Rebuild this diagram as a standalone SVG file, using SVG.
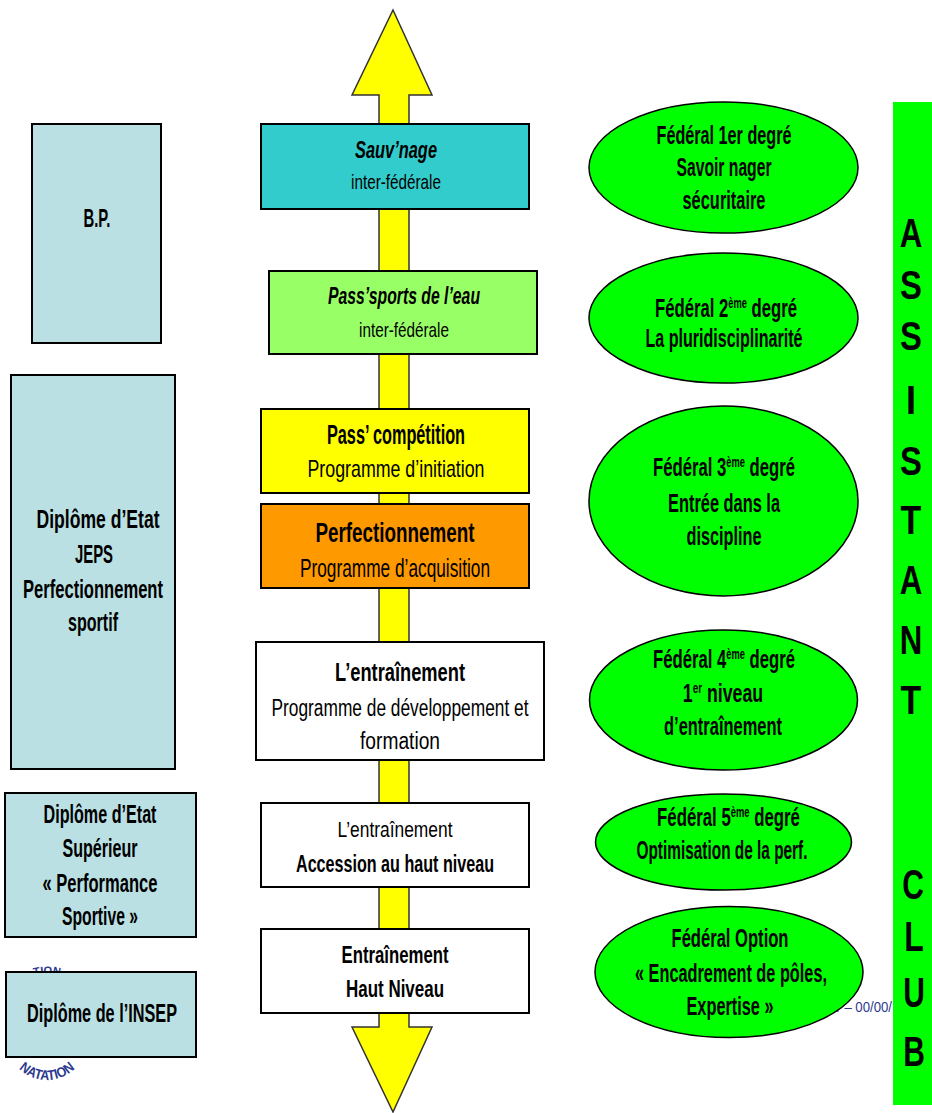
<svg xmlns="http://www.w3.org/2000/svg" width="932" height="1113" viewBox="0 0 932 1113">
<style>
.t{font-family:"Liberation Sans Narrow","Liberation Sans",Arial,sans-serif;text-anchor:middle;fill:#000}
.w{font-family:"Liberation Sans",Arial,sans-serif;font-weight:bold;text-anchor:middle;fill:#000;font-size:25px}
.b{font-weight:bold}
.i{font-style:italic}
.sup{font-size:14px}
.box{stroke:#000;stroke-width:2}
.lb{fill:#BBE0E3}
.ell{fill:#00FF00;stroke:#000;stroke-width:1.5}
.let{font-family:"Liberation Sans",Arial,sans-serif;font-weight:bold;font-size:40px;text-anchor:middle;fill:#000}
.blue{fill:#2B3990;font-family:"Liberation Sans Narrow","Liberation Sans",Arial,sans-serif}
</style>
<defs>
<path id="arcBottom" d="M 7 1040 A 40 40 0 0 0 87 1040"/>
<path id="arcTop" d="M -1 1022 A 48 48 0 0 1 95 1022"/>
</defs>

<g id="connectors">
<polygon points="393,10 432,95 409,95 409,1027 432,1027 393,1112 352,1027 379,1027 379,95 352,95" fill="#FFFF00" stroke="#333" stroke-width="1.5" stroke-linejoin="miter"/>
</g>

<g id="logo">
<text class="blue b" font-size="11"><textPath href="#arcTop" startOffset="50%" text-anchor="middle">TION</textPath></text>
<text class="blue b" font-size="14"><textPath href="#arcBottom" startOffset="50%" text-anchor="middle" textLength="62" lengthAdjust="spacingAndGlyphs">NATATION</textPath></text>
</g>

<g id="footer-date">
<text class="blue" x="829" y="1012" font-size="15" textLength="63" lengthAdjust="spacingAndGlyphs">ar – 00/00/</text>
</g>

<!-- central boxes -->
<g id="sauvnage">
<rect class="box" x="261" y="124" width="268" height="85" fill="#33CCCC"/>
<text class="t b i" x="396" y="158" font-size="24" textLength="82" lengthAdjust="spacingAndGlyphs">Sauv’nage</text>
<text class="t" x="396" y="189" font-size="21" textLength="90" lengthAdjust="spacingAndGlyphs">inter-fédérale</text>
</g>
<g id="passsports">
<rect class="box" x="269" y="271" width="268" height="83" fill="#99FF66"/>
<text class="t b i" x="404" y="304" font-size="24" textLength="152" lengthAdjust="spacingAndGlyphs">Pass’sports de l’eau</text>
<text class="t" x="404" y="337" font-size="21" textLength="90" lengthAdjust="spacingAndGlyphs">inter-fédérale</text>
</g>
<g id="passcompetition">
<rect class="box" x="261" y="409" width="268" height="84" fill="#FFFF00"/>
<text class="t b" x="396" y="444" font-size="27" textLength="138" lengthAdjust="spacingAndGlyphs">Pass’ compétition</text>
<text class="t" x="396" y="477" font-size="24" textLength="177" lengthAdjust="spacingAndGlyphs">Programme d’initiation</text>
</g>
<g id="perfectionnement">
<rect class="box" x="261" y="504" width="268" height="84" fill="#FF9900"/>
<text class="t b" x="395" y="542" font-size="27" textLength="159" lengthAdjust="spacingAndGlyphs">Perfectionnement</text>
<text class="t" x="395" y="577" font-size="25" textLength="190" lengthAdjust="spacingAndGlyphs">Programme d’acquisition</text>
</g>
<g id="entrainement1">
<rect class="box" x="256" y="642" width="288" height="118" fill="#FFFFFF"/>
<text class="t b" x="400" y="681" font-size="26" textLength="130" lengthAdjust="spacingAndGlyphs">L’entraînement</text>
<text class="t" x="400" y="716" font-size="23" textLength="257" lengthAdjust="spacingAndGlyphs">Programme de développement et</text>
<text class="t" x="400" y="749" font-size="23" textLength="80" lengthAdjust="spacingAndGlyphs">formation</text>
</g>
<g id="entrainement2">
<rect class="box" x="261" y="803" width="268" height="84" fill="#FFFFFF"/>
<text class="t" x="395" y="837" font-size="22" textLength="115" lengthAdjust="spacingAndGlyphs">L’entraînement</text>
<text class="t b" x="395" y="872" font-size="23" textLength="198" lengthAdjust="spacingAndGlyphs">Accession au haut niveau</text>
</g>
<g id="hautniveau">
<rect class="box" x="261" y="929" width="268" height="84" fill="#FFFFFF"/>
<text class="t b" x="395" y="963" font-size="23" textLength="107" lengthAdjust="spacingAndGlyphs">Entraînement</text>
<text class="t b" x="395" y="997" font-size="24" textLength="98" lengthAdjust="spacingAndGlyphs">Haut Niveau</text>
</g>

<!-- left boxes -->
<g id="bp">
<rect class="box lb" x="32" y="124" width="129" height="219"/>
<text class="t b" x="97" y="227" font-size="25" textLength="27" lengthAdjust="spacingAndGlyphs">B.P.</text>
</g>
<g id="jeps">
<rect class="box lb" x="11" y="375" width="164" height="394"/>
<text class="t b" x="98" y="528" font-size="25" textLength="123" lengthAdjust="spacingAndGlyphs">Diplôme d’Etat</text>
<text class="t b" x="94" y="563" font-size="25" textLength="38" lengthAdjust="spacingAndGlyphs">JEPS</text>
<text class="t b" x="93" y="598" font-size="25" textLength="140" lengthAdjust="spacingAndGlyphs">Perfectionnement</text>
<text class="t b" x="93" y="631" font-size="25" textLength="50" lengthAdjust="spacingAndGlyphs">sportif</text>
</g>
<g id="desup">
<rect class="box lb" x="5" y="793" width="191" height="144"/>
<text class="t b" x="100" y="823" font-size="25" textLength="113" lengthAdjust="spacingAndGlyphs">Diplôme d’Etat</text>
<text class="t b" x="100" y="857" font-size="25" textLength="75" lengthAdjust="spacingAndGlyphs">Supérieur</text>
<text class="t b" x="100" y="892" font-size="25" textLength="115" lengthAdjust="spacingAndGlyphs">« Performance</text>
<text class="t b" x="100" y="925" font-size="25" textLength="76" lengthAdjust="spacingAndGlyphs">Sportive »</text>
</g>
<g id="insep">
<rect class="box lb" x="6" y="972" width="190" height="85"/>
<text class="t b" x="102" y="1022" font-size="26" textLength="150" lengthAdjust="spacingAndGlyphs">Diplôme de l’INSEP</text>
</g>

<!-- ellipses -->
<g id="f1">
<ellipse class="ell" cx="723.5" cy="167.5" rx="134.5" ry="65.5"/>
<text class="t b" x="724" y="144" font-size="25" textLength="135" lengthAdjust="spacingAndGlyphs">Fédéral 1er degré</text>
<text class="t b" x="724" y="176" font-size="25" textLength="95" lengthAdjust="spacingAndGlyphs">Savoir nager</text>
<text class="t b" x="724" y="209" font-size="25" textLength="83" lengthAdjust="spacingAndGlyphs">sécuritaire</text>
</g>
<g id="f2">
<ellipse class="ell" cx="723.5" cy="318" rx="134.5" ry="65"/>
<text class="w" transform="translate(726,317) scale(0.667,1)">Fédéral 2<tspan class="sup" baseline-shift="9">ème</tspan> degré</text>
<text class="t b" x="724" y="347" font-size="25" textLength="157" lengthAdjust="spacingAndGlyphs">La pluridisciplinarité</text>
</g>
<g id="f3">
<ellipse class="ell" cx="723.5" cy="501" rx="134.5" ry="95"/>
<text class="w" transform="translate(724,476) scale(0.667,1)">Fédéral 3<tspan class="sup" baseline-shift="9">ème</tspan> degré</text>
<text class="t b" x="724" y="512" font-size="25" textLength="112" lengthAdjust="spacingAndGlyphs">Entrée dans la</text>
<text class="t b" x="724" y="545" font-size="25" textLength="75" lengthAdjust="spacingAndGlyphs">discipline</text>
</g>
<g id="f4">
<ellipse class="ell" cx="723.5" cy="700" rx="134" ry="70"/>
<text class="w" transform="translate(724,668) scale(0.667,1)">Fédéral 4<tspan class="sup" baseline-shift="9">ème</tspan> degré</text>
<text class="w" transform="translate(723,702) scale(0.71,1)">1<tspan class="sup" baseline-shift="9">er</tspan> niveau</text>
<text class="t b" x="723" y="735" font-size="25" textLength="118" lengthAdjust="spacingAndGlyphs">d’entraînement</text>
</g>
<g id="f5">
<ellipse class="ell" cx="723.5" cy="842" rx="128" ry="48"/>
<text class="w" transform="translate(728.5,826) scale(0.672,1)">Fédéral 5<tspan class="sup" baseline-shift="9">ème</tspan> degré</text>
<text class="t b" x="722" y="859" font-size="25" textLength="171" lengthAdjust="spacingAndGlyphs">Optimisation de la perf.</text>
</g>
<g id="f6">
<ellipse class="ell" cx="729" cy="972" rx="134" ry="65.5"/>
<text class="t b" x="730" y="947" font-size="25" textLength="117" lengthAdjust="spacingAndGlyphs">Fédéral Option</text>
<text class="t b" x="731" y="982" font-size="25" textLength="192" lengthAdjust="spacingAndGlyphs">« Encadrement de pôles,</text>
<text class="t b" x="730" y="1015" font-size="25" textLength="87" lengthAdjust="spacingAndGlyphs">Expertise »</text>
</g>

<!-- right bar -->
<g id="assistant-club">
<rect x="893" y="102" width="45" height="1003" fill="#00FF00"/>
<text class="let" transform="translate(911,247) scale(0.78,1)">A</text>
<text class="let" transform="translate(911,299) scale(0.82,1)">S</text>
<text class="let" transform="translate(911,350) scale(0.82,1)">S</text>
<text class="let" transform="translate(911,414) scale(0.9,1)">I</text>
<text class="let" transform="translate(911,475) scale(0.82,1)">S</text>
<text class="let" transform="translate(911,534) scale(0.85,1)">T</text>
<text class="let" transform="translate(911,594) scale(0.78,1)">A</text>
<text class="let" transform="translate(911,654) scale(0.78,1)">N</text>
<text class="let" transform="translate(911,714) scale(0.85,1)">T</text>
<text class="let" transform="translate(913,899) scale(0.75,1.08)">C</text>
<text class="let" transform="translate(914,951) scale(0.8,1.08)">L</text>
<text class="let" transform="translate(914,1007) scale(0.75,1.08)">U</text>
<text class="let" transform="translate(914,1066) scale(0.75,1.08)">B</text>
</g>
</svg>
